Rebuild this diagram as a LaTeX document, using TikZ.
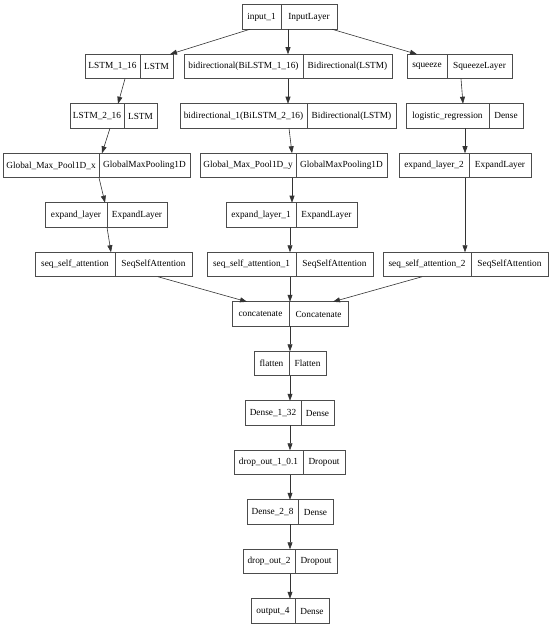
\documentclass[tikz,border=0pt]{standalone}
\usepackage{fontspec}
\setmainfont{Liberation Serif}
\usepackage{tikz}
\usetikzlibrary{positioning, arrows.meta}

\begin{document}
\begin{tikzpicture}[x=1pt, y=-1pt,
        lay/.style={draw=black!70, line width=0.6pt, outer sep=0pt, inner xsep=1pt, inner ysep=0pt,
            minimum height=24.5pt, font=\fontsize{9.3}{10}\selectfont},
        edge/.style={draw=black!80, line width=0.6pt, -{Triangle[length=7pt, width=5pt]}}]
        \useasboundingbox (0,0) rectangle (550,628);

        % row 1
        \node[lay, minimum width=39, anchor=west] (inp1) at (242,17) {input\_1};
        \node[lay, minimum width=56, right=0pt of inp1] (inp2) {InputLayer};

        % row 2
        \node[lay, minimum width=55, anchor=west] (lstmA1) at (85,66.5) {LSTM\_1\_16};
        \node[lay, minimum width=33, right=0pt of lstmA1] (lstmA2) {LSTM};
        \node[lay, minimum width=119, anchor=west] (biA1) at (184,66.5) {bidirectional(BiLSTM\_1\_16)};
        \node[lay, minimum width=89, right=0pt of biA1] (biA2) {Bidirectional(LSTM)};
        \node[lay, minimum width=40, anchor=west] (sq1) at (407,66.5) {squeeze};
        \node[lay, minimum width=65, right=0pt of sq1] (sq2) {SqueezeLayer};

        % row 3
        \node[lay, minimum width=54, anchor=west] (lstmB1) at (70,116) {LSTM\_2\_16};
        \node[lay, minimum width=33, right=0pt of lstmB1] (lstmB2) {LSTM};
        \node[lay, minimum width=127, anchor=west] (biB1) at (180,116) {bidirectional\_1(BiLSTM\_2\_16)};
        \node[lay, minimum width=89, right=0pt of biB1] (biB2) {Bidirectional(LSTM)};
        \node[lay, minimum width=83, anchor=west] (logr1) at (406,116) {logistic\_regression};
        \node[lay, minimum width=34, right=0pt of logr1] (logr2) {Dense};

        % row 4
        \node[lay, minimum width=96, anchor=west] (gmpx1) at (3,165.5) {Global\_Max\_Pool1D\_x};
        \node[lay, minimum width=91, right=0pt of gmpx1] (gmpx2) {GlobalMaxPooling1D};
        \node[lay, minimum width=96, anchor=west] (gmpy1) at (200,165.5) {Global\_Max\_Pool1D\_y};
        \node[lay, minimum width=91, right=0pt of gmpy1] (gmpy2) {GlobalMaxPooling1D};
        \node[lay, minimum width=70, anchor=west] (expC1) at (399,165.5) {expand\_layer\_2};
        \node[lay, minimum width=62, right=0pt of expC1] (expC2) {ExpandLayer};

        % row 5
        \node[lay, minimum width=62, anchor=west] (expA1) at (45,215) {expand\_layer};
        \node[lay, minimum width=60, right=0pt of expA1] (expA2) {ExpandLayer};
        \node[lay, minimum width=70, anchor=west] (expB1) at (226,215) {expand\_layer\_1};
        \node[lay, minimum width=61, right=0pt of expB1] (expB2) {ExpandLayer};

        % row 6
        \node[lay, minimum width=80, anchor=west] (attA1) at (35,264.5) {seq\_self\_attention};
        \node[lay, minimum width=77, right=0pt of attA1] (attA2) {SeqSelfAttention};
        \node[lay, minimum width=89, anchor=west] (attB1) at (207,264.5) {seq\_self\_attention\_1};
        \node[lay, minimum width=77, right=0pt of attB1] (attB2) {SeqSelfAttention};
        \node[lay, minimum width=88, anchor=west] (attC1) at (383,264.5) {seq\_self\_attention\_2};
        \node[lay, minimum width=77, right=0pt of attC1] (attC2) {SeqSelfAttention};

        % main column
        \node[lay, minimum width=57, anchor=west] (cat1) at (232,314) {concatenate};
        \node[lay, minimum width=59, right=0pt of cat1] (cat2) {Concatenate};
        \node[lay, minimum width=35, anchor=west] (flat1) at (254,363.5) {flatten};
        \node[lay, minimum width=37, right=0pt of flat1] (flat2) {Flatten};
        \node[lay, minimum width=56, anchor=west] (dnsA1) at (245,413) {Dense\_1\_32};
        \node[lay, minimum width=33, right=0pt of dnsA1] (dnsA2) {Dense};
        \node[lay, minimum width=69, anchor=west] (dropA1) at (234,462.5) {drop\_out\_1\_0.1};
        \node[lay, minimum width=42, right=0pt of dropA1] (dropA2) {Dropout};
        \node[lay, minimum width=51, anchor=west] (dnsB1) at (247,512) {Dense\_2\_8};
        \node[lay, minimum width=35, right=0pt of dnsB1] (dnsB2) {Dense};
        \node[lay, minimum width=52, anchor=west] (dropB1) at (243,561.5) {drop\_out\_2};
        \node[lay, minimum width=42, right=0pt of dropB1] (dropB2) {Dropout};
        \node[lay, minimum width=44, anchor=west] (out1) at (251,611) {output\_4};
        \node[lay, minimum width=34, right=0pt of out1] (out2) {Dense};

        % connectors
        \draw[edge] ([xshift=-31]inp1.south east) -- ([xshift=-3]lstmA2.north east);
        \draw[edge] ([xshift=7]inp2.south west) -- ([xshift=-15]biA1.north east);
        \draw[edge] ([xshift=-5]inp2.south east) -- ([xshift=10]sq1.north west);

        \draw[edge] ([xshift=-15]lstmA1.south east) -- ([xshift=-6]lstmB1.north east);
        \draw[edge] ([xshift=-15]biA1.south east) -- ([xshift=-19]biB1.north east);
        \draw[edge] ([xshift=14]sq2.south west) -- ([xshift=-26]logr1.north east);

        \draw[edge] ([xshift=-14]lstmB1.south east) -- ([xshift=3]gmpx2.north west);
        \draw[edge] ([xshift=-18]biB1.south east) -- ([xshift=-4]gmpy1.north east);
        \draw[edge] ([xshift=-24]logr1.south east) -- ([xshift=-4]expC1.north east);

        \draw[edge] (gmpx1.south east) -- ([xshift=-2]expA1.north east);
        \draw[edge] ([xshift=-4]gmpy1.south east) -- ([xshift=-4]expB1.north east);
        \draw[edge] ([xshift=-4]expC1.south east) -- ([xshift=-6]attC1.north east);

        \draw[edge] (expA1.south east) -- ([xshift=-4]attA1.north east);
        \draw[edge] ([xshift=-6]expB1.south east) -- ([xshift=-6]attB1.north east);

        \draw[edge] ([xshift=43]attA2.south west) -- ([xshift=15]cat1.north west);
        \draw[edge] ([xshift=-6]attB1.south east) -- ([xshift=1]cat2.north west);
        \draw[edge] ([xshift=39]attC1.south west) -- ([xshift=-15]cat2.north east);

        \draw[edge] ([xshift=1]cat1.south east) -- ([xshift=1]flat1.north east);
        \draw[edge] ([xshift=1]flat1.south east) -- ([xshift=-11]dnsA1.north east);
        \draw[edge] ([xshift=-11]dnsA1.south east) -- ([xshift=-13]dropA1.north east);
        \draw[edge] ([xshift=-13]dropA1.south east) -- ([xshift=-8]dnsB1.north east);
        \draw[edge] ([xshift=-8]dnsB1.south east) -- ([xshift=-5]dropB1.north east);
        \draw[edge] ([xshift=-5]dropB1.south east) -- ([xshift=-5]out1.north east);
\end{tikzpicture}
\end{document}
